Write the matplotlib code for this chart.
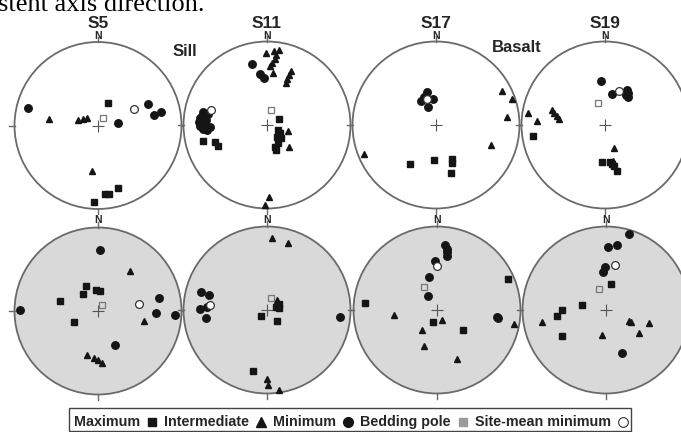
import matplotlib
matplotlib.use("Agg")
import matplotlib.pyplot as plt
from matplotlib.patches import Circle, Rectangle


# ============================================================
# DATA: positions on the equal-area net, (east, north) in units
# of the net radius. kmax = squares, kint = triangles,
# kmin = filled circles, pole = small open square, mean = open circle
# ============================================================

SITES = ["S5", "S11", "S17", "S19"]

# --- upper row (white nets) ---
s5_up_kmax = [(0.12, 0.265), (-0.048, -0.92), (0.088, -0.819), (0.129, -0.815), (0.241, -0.751)]
s5_up_kint = [(-0.59, 0.072), (-0.237, 0.06), (-0.185, 0.076), (-0.133, 0.084), (-0.076, -0.542)]
s5_up_kmin = [(-0.843, 0.205), (0.594, 0.261), (0.671, 0.129), (0.759, 0.157), (0.241, 0.032)]
s5_up_pole = [(0.056, 0.092)]
s5_up_mean = [(0.426, 0.197)]

s11_up_kmax = [(0.143, 0.071), (0.131, -0.06), (0.155, -0.095), (0.119, -0.143), (0.167, -0.155),
               (0.131, -0.214), (0.095, -0.262), (0.107, -0.3), (-0.762, -0.19), (-0.619, -0.202),
               (-0.583, -0.25)]
s11_up_kint = [(-0.012, 0.857), (0.083, 0.881), (0.107, 0.833), (0.095, 0.786), (0.06, 0.738),
               (0.036, 0.702), (0.143, 0.893), (0.071, 0.619), (0.286, 0.643), (0.262, 0.595),
               (0.238, 0.548), (0.226, 0.5), (0.25, -0.071), (0.262, -0.262), (0.024, -0.857),
               (-0.024, -0.964)]
s11_up_kmin = [(-0.179, 0.726), (-0.083, 0.607), (-0.036, 0.56), (-0.762, 0.155), (-0.798, 0.083),
               (-0.81, 0.036), (-0.798, -0.012), (-0.762, -0.048), (-0.714, -0.06), (-0.679, -0.024),
               (-0.726, 0.06), (-0.774, 0.107), (-0.702, 0.131), (-0.75, 0.012)]
s11_up_pole = [(0.048, 0.179)]
s11_up_mean = [(-0.667, 0.179)]

s17_up_kmax = [(-0.312, -0.472), (-0.02, -0.42), (0.196, -0.412), (0.196, -0.46), (0.18, -0.58)]
s17_up_kint = [(0.796, 0.412), (0.908, 0.312), (0.848, 0.092), (0.66, -0.24), (-0.864, -0.352)]
s17_up_kmin = [(-0.104, 0.396), (-0.184, 0.284), (-0.04, 0.316), (-0.096, 0.22), (-0.144, 0.332)]
s17_up_pole = []
s17_up_mean = [(-0.104, 0.308)]

s19_up_kmax = [(-0.868, -0.132), (-0.04, -0.448), (0.06, -0.44), (0.08, -0.468), (0.108, -0.488),
               (0.14, -0.548)]
s19_up_kint = [(-0.92, 0.14), (-0.82, 0.052), (-0.632, 0.18), (-0.608, 0.148), (-0.572, 0.112),
               (-0.548, 0.072), (0.108, -0.272), (0.1, -0.432)]
s19_up_kmin = [(-0.052, 0.532), (0.08, 0.368), (0.26, 0.42), (0.272, 0.38), (0.28, 0.34), (0.252, 0.36)]
s19_up_pole = [(-0.088, 0.26)]
s19_up_mean = [(0.172, 0.412)]

# --- lower row (grey nets) ---
s5_lo_kmax = [(-0.148, 0.304), (-0.176, 0.204), (-0.02, 0.252), (0.028, 0.244), (-0.46, 0.124),
              (-0.288, -0.136)]
s5_lo_kint = [(0.38, 0.48), (0.552, -0.116), (-0.132, -0.532), (-0.048, -0.568), (0.004, -0.588),
              (0.048, -0.628)]
s5_lo_kmin = [(0.02, 0.732), (0.732, 0.152), (0.692, -0.02), (0.92, -0.052), (0.204, -0.412),
              (-0.932, 0.012)]
s5_lo_pole = [(0.048, 0.072)]
s5_lo_mean = [(0.492, 0.08)]

s11_lo_kmax = [(0.14, 0.076), (0.108, 0.04), (0.148, 0.028), (-0.072, -0.072), (0.116, -0.132),
               (-0.164, -0.728)]
s11_lo_kint = [(0.056, 0.86), (0.248, 0.8), (0.116, 0.12), (0.004, -0.824), (0.012, -0.9), (0.14, -0.956)]
s11_lo_kmin = [(-0.796, 0.22), (-0.7, 0.176), (-0.716, 0.036), (-0.804, 0.008), (-0.732, -0.092),
               (0.876, -0.08)]
s11_lo_pole = [(0.044, 0.148)]
s11_lo_mean = [(-0.684, 0.056)]

s17_lo_kmax = [(0.848, 0.372), (-0.864, 0.08), (-0.048, -0.148), (0.316, -0.236)]
s17_lo_kint = [(-0.516, -0.056), (0.056, -0.12), (-0.184, -0.24), (-0.156, -0.428), (0.244, -0.588),
               (0.928, -0.168)]
s17_lo_kmin = [(0.096, 0.78), (0.116, 0.732), (0.124, 0.692), (0.124, 0.644), (-0.028, 0.584),
               (-0.092, 0.392), (-0.112, 0.172), (0.716, -0.08), (0.728, -0.096)]
s17_lo_pole = [(-0.152, 0.28)]
s17_lo_mean = [(0.004, 0.532)]

s19_lo_kmax = [(0.056, 0.315), (-0.29, 0.065), (-0.524, 0.004), (-0.589, -0.069), (-0.528, -0.31)]
s19_lo_kint = [(-0.77, -0.141), (0.27, -0.129), (0.298, -0.149), (0.512, -0.161), (0.4, -0.278),
               (-0.044, -0.302)]
s19_lo_kmin = [(0.278, 0.907), (0.028, 0.758), (0.129, 0.778), (-0.008, 0.516), (-0.04, 0.456),
               (0.19, -0.512)]
s19_lo_pole = [(-0.081, 0.254)]
s19_lo_mean = [(0.109, 0.544)]

UPPER = [
    (s5_up_kmax, s5_up_kint, s5_up_kmin, s5_up_pole, s5_up_mean),
    (s11_up_kmax, s11_up_kint, s11_up_kmin, s11_up_pole, s11_up_mean),
    (s17_up_kmax, s17_up_kint, s17_up_kmin, s17_up_pole, s17_up_mean),
    (s19_up_kmax, s19_up_kint, s19_up_kmin, s19_up_pole, s19_up_mean),
]
LOWER = [
    (s5_lo_kmax, s5_lo_kint, s5_lo_kmin, s5_lo_pole, s5_lo_mean),
    (s11_lo_kmax, s11_lo_kint, s11_lo_kmin, s11_lo_pole, s11_lo_mean),
    (s17_lo_kmax, s17_lo_kint, s17_lo_kmin, s17_lo_pole, s17_lo_mean),
    (s19_lo_kmax, s19_lo_kint, s19_lo_kmin, s19_lo_pole, s19_lo_mean),
]

LEGEND_LABELS = ["Maximum", "Intermediate", "Minimum", "Bedding pole", "Site-mean minimum"]


# ============================================================
# LAYOUT (pixels of the 681 x 432 image)
# ============================================================

W, H = 681, 432
RADIUS = 83.5
UPPER_CENTERS = [(98, 125.5), (267, 125), (436, 125), (605, 125)]
LOWER_CENTERS = [(98, 311), (267, 310), (437, 310), (606, 310)]
PAD = 1.12

INK = "#151515"
RING = "#6a6a6a"
TEXT = "#262626"


def xy(points):
    return [p[0] for p in points], [p[1] for p in points]


def draw_net(fig, center, data, filled):
    cx, cy = center
    half = PAD * RADIUS
    ax = fig.add_axes([(cx - half) / W, 1 - (cy + half) / H, 2 * half / W, 2 * half / H])
    ax.set_xlim(-PAD, PAD)
    ax.set_ylim(-PAD, PAD)
    ax.set_aspect("equal")
    ax.axis("off")
    ax.patch.set_alpha(0)

    face = "#d9d9d9" if filled else "white"
    ax.add_patch(Circle((0, 0), 1, facecolor=face, edgecolor=RING, lw=1.3, zorder=1))

    # tick marks at N, S, E, W
    tick = 0.06
    for dx, dy in [(0, 1), (0, -1), (1, 0), (-1, 0)]:
        ax.plot([dx, dx * (1 + tick)], [dy, dy * (1 + tick)], color=RING, lw=1.0,
                clip_on=False, zorder=1)

    ax.plot(0, 0, marker="+", ms=8, mew=0.8, color="#555555", zorder=2)

    kmax, kint, kmin, pole, mean = data
    if kmax:
        ax.plot(*xy(kmax), ls="none", marker="s", ms=4.4, color=INK, zorder=3, clip_on=False)
    if kint:
        ax.plot(*xy(kint), ls="none", marker="^", ms=5.0, color=INK, zorder=3, clip_on=False)
    if kmin:
        ax.plot(*xy(kmin), ls="none", marker="o", ms=5.4, color=INK, zorder=3, clip_on=False)
    if pole:
        ax.plot(*xy(pole), ls="none", marker="s", ms=4.2, mfc=face, mec="#777777", mew=0.9, zorder=4)
    if mean:
        ax.plot(*xy(mean), ls="none", marker="o", ms=5.6, mfc="white", mec="#333333", mew=0.9, zorder=4)
    return ax


def main():
    plt.rcParams["font.family"] = ["Liberation Sans", "DejaVu Sans"]
    fig = plt.figure(figsize=(W / 100, H / 100), dpi=100)
    fig.patch.set_facecolor("white")

    for center, data in zip(UPPER_CENTERS, UPPER):
        draw_net(fig, center, data, filled=False)
    for center, data in zip(LOWER_CENTERS, LOWER):
        draw_net(fig, center, data, filled=True)

    # overlay in pixel coordinates for labels and legend
    ov = fig.add_axes([0, 0, 1, 1])
    ov.set_xlim(0, W)
    ov.set_ylim(H, 0)
    ov.axis("off")
    ov.patch.set_alpha(0)

    # tail of the caption line above the figure (cut at the top edge)
    ov.text(-2, 11, "stent axis direction.", family="Liberation Serif", fontsize=19,
            ha="left", va="baseline", color="black")

    for name, (cx, cy) in zip(SITES, UPPER_CENTERS):
        ov.text(cx, 28, name, fontsize=12.5, fontweight="bold", ha="center", va="baseline", color=TEXT)
        ov.text(cx, 39, "N", fontsize=7.5, fontweight="bold", ha="center", va="baseline", color=TEXT)
    for cx, cy in LOWER_CENTERS:
        ov.text(cx, 223, "N", fontsize=7.5, fontweight="bold", ha="center", va="baseline", color=TEXT)

    ov.text(173, 51, "Sill", fontsize=12, fontweight="bold", ha="left", va="center", color=TEXT)
    ov.text(492, 47, "Basalt", fontsize=12, fontweight="bold", ha="left", va="center", color=TEXT)

    # legend strip: label followed by its symbol
    styles = [
        dict(marker="s", ms=6.0, color=INK),
        dict(marker="^", ms=7.0, color=INK),
        dict(marker="o", ms=7.0, color=INK),
        dict(marker="s", ms=6.0, color="#9a9a9a"),
        dict(marker="o", ms=7.0, mfc="white", mec="#333333", mew=0.8),
    ]
    renderer = fig.canvas.get_renderer()
    x0 = 74
    ly = 422
    x = x0
    for label, style in zip(LEGEND_LABELS, styles):
        t = ov.text(x, ly, label, fontsize=10.3, fontweight="bold", ha="left", va="center", color=TEXT)
        x += t.get_window_extent(renderer).width + 8
        ov.plot(x + 4, ly, ls="none", clip_on=False, **style)
        x += 8 + 8
    ov.add_patch(Rectangle((x0 - 5, 408), x - x0 + 1, 23, facecolor="none",
                           edgecolor="#444444", lw=1.0))

    fig.savefig("out.png", dpi=100)
    plt.close(fig)


if __name__ == "__main__":
    main()
